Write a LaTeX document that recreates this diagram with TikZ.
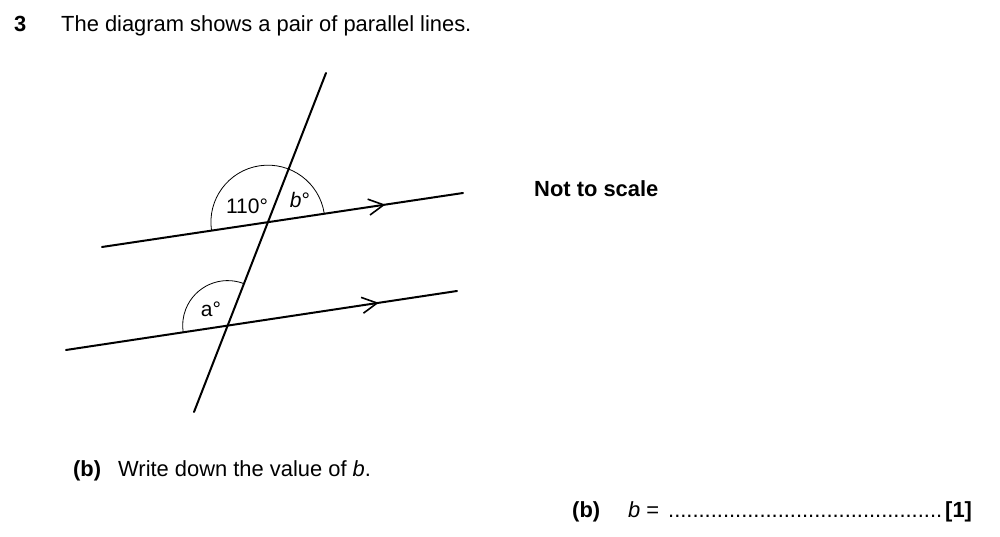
\documentclass[tikz,border=0pt]{standalone}
\usepackage{fontspec}
\setmainfont{Liberation Sans}
\usetikzlibrary{arrows.meta,decorations.markings}
\begin{document}
\begin{tikzpicture}[x=1pt,y=1pt,
  mainline/.style={line width=2pt,line cap=round},
  thinarc/.style={line width=0.8pt},
  txt/.style={inner sep=0pt,anchor=base west,font=\fontsize{21.9}{26}\selectfont},
  lbl/.style={inner sep=0pt,font=\fontsize{21}{24}\selectfont},
  chev/.style={decoration={markings,mark=at position #1 with {\arrow{Straight Barb[length=15pt,width=16pt,line width=1.6pt]}}},postaction={decorate}}
]
\useasboundingbox (0,0) rectangle (1000,537);
% lines
\coordinate (T1) at (326,464);
\coordinate (T2) at (194,125);
\coordinate (U1) at (102,290);
\coordinate (U2) at (463,344);
\coordinate (D1) at (66,187);
\coordinate (D2) at (457,246);
\coordinate (P) at (intersection of T1--T2 and U1--U2);
\coordinate (Q) at (intersection of T1--T2 and D1--D2);
\draw[mainline] (T1) -- (T2);
\draw[mainline,chev=0.785] (U1) -- (U2);
\draw[mainline,chev=0.80] (D1) -- (D2);
% arcs
\draw[thinarc] ([shift={(8.5:57)}]P) arc[start angle=8.5,end angle=188.5,radius=57];
\draw[thinarc] ([shift={(68.7:45)}]Q) arc[start angle=68.7,end angle=188.5,radius=45];
% angle labels
\node[lbl] (l110) at (247,331) {110°};
\node[lbl] (lb) at (300,337) {\itshape b\upshape°};
\node[lbl] (la) at (211,228) {a°};
% texts
\node[txt] (num) at (14,505) {\bfseries 3};
\node[txt] (q) at (61,505) {The diagram shows a pair of parallel lines.};
\node[txt] (nts) at (534,340) {\bfseries Not to scale};
\node[txt] (pb) at (73,60) {\bfseries (b)};
\node[txt] (wd) at (118,60) {Write down the value of \itshape b\upshape.};
\node[txt] (pb2) at (572,19) {\bfseries (b)};
\node[txt] (beq) at (628,19) {\itshape b\upshape\ =};
\node[txt] (dots) at (668,19) {.............................................};
\node[txt] (mk) at (945,19) {\bfseries [1]};
\end{tikzpicture}
\end{document}
